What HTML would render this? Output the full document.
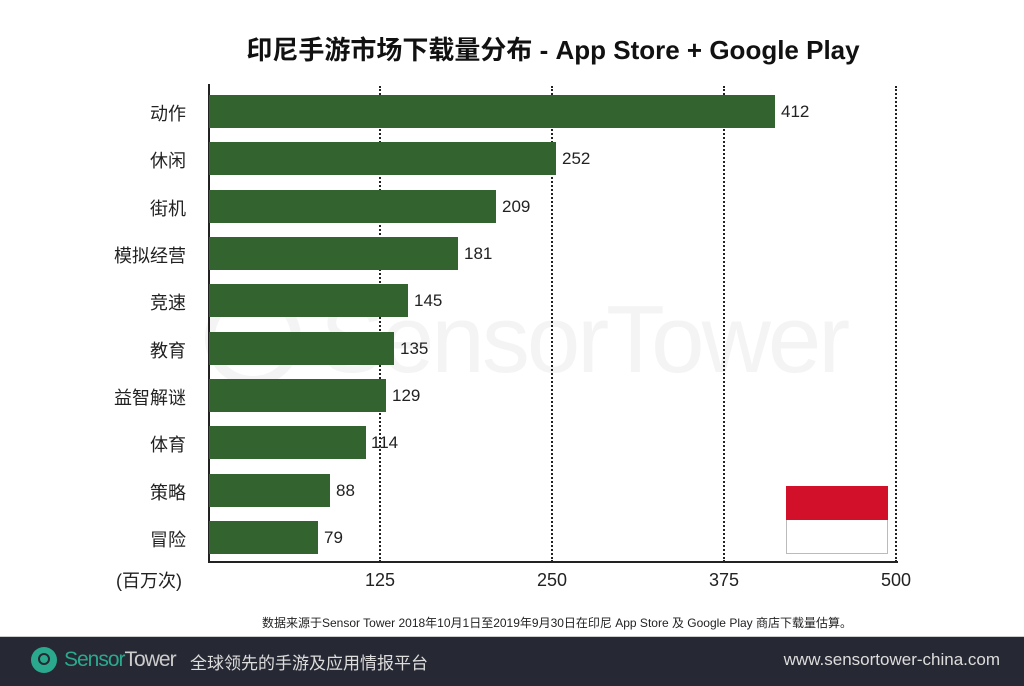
<!DOCTYPE html><html><head><meta charset="utf-8"><style>
body{margin:0;width:1024px;height:685px;background:#fff;position:relative;overflow:hidden;font-family:"Liberation Sans","Noto Sans CJK SC",sans-serif;}
.a{position:absolute}
.lab{position:absolute;right:838px;font-size:18px;color:#222;white-space:nowrap}
.bar{position:absolute;left:209px;height:33px;background:#33632f}
.v{position:absolute;font-size:17px;color:#222}
.g{position:absolute;top:86px;height:476px;border-left:2px dotted #222}
.t{position:absolute;top:570px;font-size:18px;color:#222;transform:translateX(-50%)}
</style></head><body>
<div class="a" style="left:0;width:1024px;top:30px;text-align:center;font-size:26px;font-weight:bold;color:#111;padding-left:82px;box-sizing:border-box">印尼手游市场下载量分布 - App Store + Google Play</div>
<div class="a" style="left:205px;top:290px;width:96px;height:96px;border-radius:50%;border:10px solid #f4f4f4;box-sizing:border-box"></div>
<div class="a" style="left:320px;top:285px;font-size:96px;color:#f4f4f4;letter-spacing:-3px">SensorTower</div>
<div class="g" style="left:379px"></div><div class="g" style="left:551px"></div><div class="g" style="left:723px"></div><div class="g" style="left:895px"></div>
<div class="a" style="left:208px;top:84px;width:2px;height:479px;background:#222"></div>
<div class="a" style="left:208px;top:561px;width:690px;height:2px;background:#222"></div>
<div class="bar" style="top:95px;width:566px"></div><div class="lab" style="top:100px">动作</div><div class="v" style="left:781px;top:102px">412</div>
<div class="bar" style="top:142px;width:347px"></div><div class="lab" style="top:147px">休闲</div><div class="v" style="left:562px;top:149px">252</div>
<div class="bar" style="top:190px;width:287px"></div><div class="lab" style="top:195px">街机</div><div class="v" style="left:502px;top:197px">209</div>
<div class="bar" style="top:237px;width:249px"></div><div class="lab" style="top:242px">模拟经营</div><div class="v" style="left:464px;top:244px">181</div>
<div class="bar" style="top:284px;width:199px"></div><div class="lab" style="top:289px">竞速</div><div class="v" style="left:414px;top:291px">145</div>
<div class="bar" style="top:332px;width:185px"></div><div class="lab" style="top:337px">教育</div><div class="v" style="left:400px;top:339px">135</div>
<div class="bar" style="top:379px;width:177px"></div><div class="lab" style="top:384px">益智解谜</div><div class="v" style="left:392px;top:386px">129</div>
<div class="bar" style="top:426px;width:157px"></div><div class="lab" style="top:431px">体育</div><div class="v" style="left:371px;top:433px">114</div>
<div class="bar" style="top:474px;width:121px"></div><div class="lab" style="top:479px">策略</div><div class="v" style="left:336px;top:481px">88</div>
<div class="bar" style="top:521px;width:109px"></div><div class="lab" style="top:526px">冒险</div><div class="v" style="left:324px;top:528px">79</div>
<div class="a" style="left:786px;top:486px;width:102px;height:34px;background:#d3102a"></div>
<div class="a" style="left:786px;top:520px;width:100px;height:33px;background:#fff;border:1px solid #bbb;border-top:none"></div>
<div class="a" style="left:116px;top:567px;font-size:18px;color:#222">(百万次)</div>
<div class="t" style="left:380px">125</div><div class="t" style="left:552px">250</div><div class="t" style="left:724px">375</div><div class="t" style="left:896px">500</div>
<div class="a" style="left:0;width:1024px;top:614px;text-align:center;font-size:12px;color:#222;padding-left:90px;box-sizing:border-box">数据来源于Sensor Tower 2018年10月1日至2019年9月30日在印尼 App Store 及 Google Play 商店下载量估算。</div>
<div class="a" style="left:0;top:636px;width:1024px;height:49px;background:#262833;border-top:1px solid #ccc"></div>
<div class="a" style="left:31px;top:647px;width:26px;height:26px;border-radius:50%;background:#2aa98f"></div>
<div class="a" style="left:38px;top:653px;width:12px;height:12px;border-radius:50%;border:2px solid #262833;box-sizing:border-box"></div>
<div class="a" style="left:64px;top:648px;font-size:21px;color:#2aa98f;letter-spacing:-1px">Sensor<span style="color:#ccc">Tower</span></div>
<div class="a" style="left:190px;top:649px;font-size:17px;color:#ddd">全球领先的手游及应用情报平台</div>
<div class="a" style="right:24px;top:650px;font-size:17px;color:#ddd">www.sensortower-china.com</div>
</body></html>
